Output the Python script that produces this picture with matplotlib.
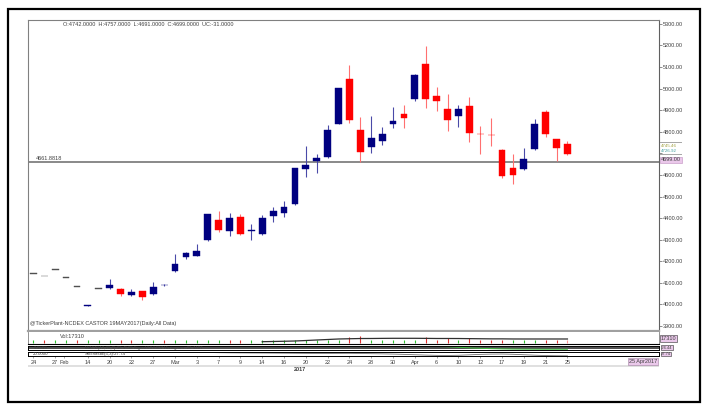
import matplotlib
matplotlib.use('Agg')
import matplotlib.pyplot as plt
from matplotlib.patches import Rectangle

# ---------------------------------------------------------------- data
opens  = [4141, 4130, 4160, 4124, 4082, 3992, 4070, 4075, 4073, 4042,
          4061, 4047, 4088, 4153, 4222, 4226, 4299, 4391, 4340, 4407,
          4342, 4325, 4410, 4422, 4464, 4628, 4665, 4682, 4836, 5045,
          4809, 4731, 4758, 4836, 4883, 4952, 5115, 4968, 4906, 4873,
          4920, 4791, 4786, 4716, 4634, 4626, 4720, 4894, 4765, 4742]
highs  = [4141, 4130, 4160, 4124, 4082, 3996, 4070, 4117, 4074, 4070,
          4063, 4104, 4096, 4232, 4243, 4279, 4421, 4433, 4422, 4419,
          4373, 4414, 4451, 4479, 4633, 4734, 4697, 4832, 5003, 5110,
          4870, 4875, 4821, 4917, 4924, 5066, 5198, 5009, 4974, 4924,
          4963, 4827, 4863, 4718, 4697, 4724, 4858, 4901, 4768, 4757]
lows   = [4141, 4130, 4160, 4124, 4082, 3992, 4070, 4072, 4039, 4040,
          4020, 4045, 4085, 4150, 4210, 4224, 4294, 4334, 4317, 4322,
          4299, 4322, 4383, 4403, 4462, 4589, 4608, 4680, 4834, 4842,
          4662, 4703, 4739, 4816, 4816, 4944, 4909, 4897, 4804, 4821,
          4754, 4697, 4734, 4588, 4558, 4624, 4717, 4775, 4665, 4691]
closes = [4141, 4130, 4160, 4124, 4082, 3996, 4070, 4092, 4050, 4059,
          4036, 4082, 4092, 4187, 4237, 4248, 4419, 4345, 4400, 4326,
          4345, 4402, 4432, 4450, 4631, 4644, 4680, 4809, 5002, 4855,
          4705, 4770, 4789, 4850, 4866, 5064, 4952, 4944, 4855, 4906,
          4793, 4788, 4783, 4597, 4600, 4673, 4835, 4790, 4727, 4699]

# volume ticks (arbitrary units) and their colours (g = up, r = down)
volumes = [6650, 6650, 6650, 6650, 6650, 6650, 6650, 6650, 6650, 6650,
           6650, 6650, 6650, 6650, 6650, 6650, 6650, 6650, 6650, 6650,
           6650, 6650, 6650, 6650, 6650, 6650, 6650, 9300, 9300, 17300,
           18600, 6650, 6650, 6650, 6650, 6650, 17300, 8000, 13300, 6650,
           14600, 6650, 6650, 6650, 6650, 6650, 6650, 6650, 6650, 6650]
vol_up = list('grggrgggrrggrgggggrrgggggggggr' + 'rgggggrrrgrrrrgggrrr')

oi_start = 21
oi_vals = [3460, 4000, 4600, 5300, 6600, 8000, 9300, 10650, 11300, 11900,
           12000, 12300, 12500, 12500, 12500, 12300, 12000, 12000, 11900, 11600,
           11300, 11000, 11000, 10700, 10650, 10650, 10650, 10650, 10650]

macd_start = 25
macd_vals = [8.5, 8.6, 8.7, 8.8, 8.9, 9.0, 9.0, 9.0, 8.9, 8.8,
             8.6, 8.4, 8.0, 7.2, 6.0, 4.8, 3.8, 3.0, 2.4, 2.0,
             1.8, 1.7, 1.6, 1.6, 1.6]

stoch_start = 14
stoch_vals = [8.2, 8.0, 7.8, 7.4, 7.1, 6.9, 6.7, 6.6, 6.4, 6.2,
              6.0, 5.8, 5.7, 5.7, 5.8, 5.9, 5.6, 5.2, 4.8, 4.3,
              3.6, 2.8, 2.0, 1.4, 1.1, 1.6, 2.6, 3.6, 4.2, 4.4,
              3.8, 2.8, 1.8, 1.0, 0.6, 0.4]

date_pos = [0, 2, 2.8, 5, 7, 9, 11, 13, 15, 17, 19, 21, 23, 25, 27, 29,
            31, 33, 35, 37, 39, 41, 43, 45, 47, 49]
date_labels = ['24', '27', 'Feb', '14', '20', '22', '27', 'Mar', '3', '7', '9',
               '14', '16', '20', '22', '24', '28', '30', 'Apr', '6', '10', '12',
               '17', '19', '21', '25']
price_ticks = [3900, 4000, 4100, 4200, 4300, 4400, 4500, 4600, 4700, 4800,
               4900, 5000, 5100, 5200, 5300]
hidden_tick = 4700          # covered by the last-value labels in the original
ref_level = 4661.8818

# ---------------------------------------------------------------- layout helpers
W, H = 702, 408
plt.rcParams['font.family'] = ['Liberation Sans', 'DejaVu Sans']

def fx(px):
    return px / W

def fy(py):
    return 1 - py / H

def axes_px(fig, x0, y0, x1, y1):
    return fig.add_axes([fx(x0), fy(y1), (x1 - x0) / W, (y1 - y0) / H])

fig = plt.figure(figsize=(W / 100, H / 100), dpi=100)
fig.patch.set_facecolor('white')

XL = (-0.49, 57.4)
L, R = 28, 659
FS = 4.0
SFS = 3.2
TXT = '#404040'
PINK = '#eac8ea'

# ---------------------------------------------------------------- main candle panel
ax = axes_px(fig, L, 20, R, 331)
ax.set_xlim(*XL)
ax.set_ylim(3877, 5318)

n = len(opens)
idx = list(range(n))
body_col, wick_col, bottoms, heights = [], [], [], []
for o, c in zip(opens, closes):
    if c > o:
        body_col.append('#000080'); wick_col.append('#4a4aa8')
    elif c < o:
        body_col.append('#ff0000'); wick_col.append('#ff7070')
    else:
        body_col.append('#505050'); wick_col.append('#505050')
    bottoms.append(min(o, c))
    heights.append(max(abs(c - o), 4))

ax.vlines(idx, lows, highs, colors=wick_col, lw=0.8, zorder=2)
ax.bar(idx, heights, bottom=bottoms, width=0.62, color=body_col,
       edgecolor=body_col, lw=0.3, zorder=3)

ax.axhline(ref_level, color='#808080', lw=1.3, zorder=1)
fig.text(fx(36), fy(158.5), '4661.8818', fontsize=FS, color=TXT, va='center')

ax.yaxis.tick_right()
ax.set_yticks(price_ticks)
ax.set_yticklabels(['' if t == hidden_tick else '%.2f' % t for t in price_ticks])
ax.tick_params(axis='y', labelsize=FS, length=2, width=0.5, pad=1,
               colors='#606060', labelcolor=TXT)
ax.set_xticks([])
for s in ['left', 'top']:
    ax.spines[s].set_color('#808080'); ax.spines[s].set_linewidth(0.8)
ax.spines['right'].set_color('#606060'); ax.spines['right'].set_linewidth(0.8)
ax.spines['bottom'].set_color('#a0a0a0'); ax.spines['bottom'].set_linewidth(1.6)

fig.text(fx(63), fy(24), 'O:4742.0000  H:4757.0000  L:4691.0000  C:4699.0000  UC:-31.0000',
         fontsize=FS, color=TXT, va='center')
fig.text(fx(30), fy(324), '@TickerPlant-NCDEX CASTOR 19MAY2017(Daily:All Data)',
         fontsize=FS, color=TXT, va='center')

# last value labels on the price scale
fig.add_artist(Rectangle((fx(660), fy(143.3)), 22 / W, 1.2 / H, color='#a8a8a8', lw=0))
fig.add_artist(Rectangle((fx(660), fy(155.2)), 22 / W, 1.2 / H, color='#a8a8a8', lw=0))
fig.text(fx(661), fy(145.6), '4745.46', fontsize=SFS, color='#a0a040', va='center')
fig.text(fx(661), fy(151.3), '4726.92', fontsize=SFS, color='#40a0a0', va='center')
fig.text(fx(661), fy(159.6), '4699.00', fontsize=FS, color=TXT, va='center',
         bbox=dict(boxstyle='square,pad=0.1', fc=PINK, ec='#c090c0', lw=0.4))

# ---------------------------------------------------------------- volume panel
av = axes_px(fig, L, 332, R, 344)
av.set_xlim(*XL)
av.set_ylim(-2700, 29300)
vcols = ['#30c030' if c == 'g' else '#e03030' for c in vol_up]
vcols[-1] = '#ff9090'
av.vlines(idx, 0, volumes, colors=vcols, lw=0.8)
av.plot(range(oi_start, oi_start + len(oi_vals)), oi_vals, color='#303030', lw=0.9)
av.set_xticks([]); av.set_yticks([])
for s in ['left', 'right']:
    av.spines[s].set_color('#808080'); av.spines[s].set_linewidth(0.6)
av.spines['top'].set_visible(False)
av.spines['bottom'].set_color('black'); av.spines['bottom'].set_linewidth(0.8)
fig.text(fx(60), fy(336.5), 'Vol:17310', fontsize=FS, color=TXT, va='center')
fig.text(fx(661), fy(338.5), '17310', fontsize=FS, color=TXT, va='center',
         bbox=dict(boxstyle='square,pad=0.15', fc=PINK, ec='#303030', lw=0.4))

# ---------------------------------------------------------------- macd panel
am = axes_px(fig, L, 345.5, R, 350)
am.set_xlim(*XL)
am.set_ylim(0, 10)
am.axhline(3.5, color='#303030', lw=1.2)
am.plot(range(macd_start, macd_start + len(macd_vals)), macd_vals, color='#40c040', lw=0.7)
am.set_xticks([]); am.set_yticks([])
for s in am.spines.values():
    s.set_color('black'); s.set_linewidth(0.7)
fig.text(fx(34), fy(347.7), '9.9999', fontsize=SFS, color=TXT, va='center')
fig.text(fx(85), fy(347.7), 'MACD(12,26,9):36.4538 Signal:63.6907 Histogram:-26.4487',
         fontsize=SFS, color=TXT, va='center')
fig.text(fx(661), fy(347.6), '-26.44', fontsize=3.0, color=TXT, va='center',
         bbox=dict(boxstyle='square,pad=0.05', fc=PINK, ec='#303030', lw=0.4))

# ---------------------------------------------------------------- stochastic panel
ast = axes_px(fig, L, 351.5, R, 356)
ast.set_xlim(*XL)
ast.set_ylim(0, 10)
ast.plot(range(stoch_start, stoch_start + len(stoch_vals)), stoch_vals,
         color='#707070', lw=0.6)
ast.set_yticks([])
for s in ast.spines.values():
    s.set_color('black'); s.set_linewidth(0.7)
ast.set_xticks(date_pos)
ast.set_xticklabels(date_labels)
ast.tick_params(axis='x', labelsize=FS, length=1.5, width=0.4, pad=1.5,
                colors='#606060', labelcolor=TXT)
fig.text(fx(33), fy(353.6), '20.0000', fontsize=SFS, color=TXT, va='center')
fig.text(fx(85), fy(353.6), 'Stochastic(5,3):27.74', fontsize=SFS, color=TXT, va='center')
fig.text(fx(661), fy(354.0), '27.74', fontsize=3.0, color=TXT, va='center',
         bbox=dict(boxstyle='square,pad=0.05', fc=PINK, ec='#303030', lw=0.4))

# date axis band and labels
fig.add_artist(Rectangle((fx(L), fy(366.5)), (R - L) / W, 1.5 / H, color='#e0e0e0', lw=0))
fig.text(fx(300), fy(369.5), '2017', fontsize=FS, color=TXT, ha='center', va='center',
         weight='bold')
fig.text(fx(657), fy(361.5), '25 Apr2017', fontsize=FS, color=TXT, ha='right', va='center',
         bbox=dict(boxstyle='square,pad=0.2', fc=PINK, ec='#a080a0', lw=0.4))

# outer frame
fig.add_artist(Rectangle((fx(7.5), fy(402)), (700 - 7.5) / W, (402 - 8.5) / H,
                         fill=False, ec='black', lw=1.6))

fig.savefig('out.png', dpi=100)
